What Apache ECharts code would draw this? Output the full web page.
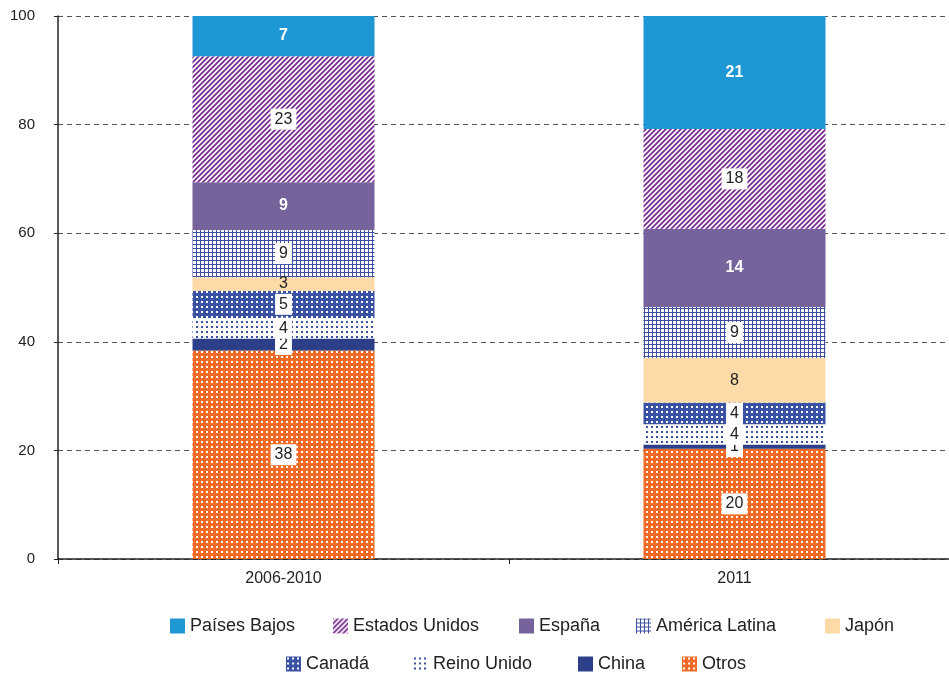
<!DOCTYPE html>
<html>
<head>
<meta charset="utf-8">
<script src="https://cdn.jsdelivr.net/npm/echarts@6/dist/echarts.min.js"></script>
<style>
  html, body { margin: 0; padding: 0; background: #fff; overflow: hidden; }
  #main { width: 961px; height: 673px; }
</style>
</head>
<body>
<div id="main"></div>
<script>
var categories = ['2006-2010', '2011'];
var yTicks = [0, 20, 40, 60, 80, 100];

// stack order, bottom to top
var otros = [38.4, 20.3];
var china = [2.2, 0.8];
var reinoUnido = [3.8, 3.7];
var canada = [5.0, 4.0];
var japon = [2.5, 8.2];
var americaLatina = [8.7, 9.4];
var espana = [8.8, 14.4];
var estadosUnidos = [23.2, 18.4];
var paisesBajos = [7.4, 20.8];

function pattern(size, draw) {
    var c = document.createElement('canvas');
    c.width = size;
    c.height = size;
    var ctx = c.getContext('2d');
    draw(ctx, size);
    return { image: c, repeat: 'repeat' };
}

function dots(bg, fg, size, dot) {
    return pattern(size, function(ctx, s) {
        ctx.fillStyle = bg;
        ctx.fillRect(0, 0, s, s);
        ctx.fillStyle = fg;
        ctx.fillRect(1, 1, dot, dot);
    });
}

var fillOtros = dots('#f26b26', '#ffffff', 5, 2);
var fillCanada = dots('#3a52a3', '#ffffff', 5, 2);
var fillReino = dots('#ffffff', '#3a52a3', 5, 2);
var fillAmerica = pattern(4, function(ctx, s) {
    ctx.fillStyle = '#ffffff';
    ctx.fillRect(0, 0, s, s);
    ctx.fillStyle = '#3c4fa3';
    ctx.fillRect(0, 0, s, 1);
    ctx.fillRect(0, 0, 1, s);
});
var fillEEUU = pattern(5, function(ctx, s) {
    ctx.fillStyle = '#ffffff';
    ctx.fillRect(0, 0, s, s);
    ctx.strokeStyle = '#7a2b92';
    ctx.lineWidth = 1.8;
    ctx.beginPath();
    ctx.moveTo(-1, s + 1); ctx.lineTo(s + 1, -1);
    ctx.moveTo(-2, 2); ctx.lineTo(2, -2);
    ctx.moveTo(s - 2, s + 2); ctx.lineTo(s + 2, s - 2);
    ctx.stroke();
});

var boxLabel = {
    show: true,
    color: '#222',
    fontSize: 16,
    fontFamily: 'Liberation Sans, Arial, sans-serif',
    backgroundColor: '#fff',
    padding: [3, 4, 2, 4],
    formatter: function(p) { return Math.round(p.value); }
};
var plainLabel = {
    show: true,
    color: '#222',
    fontSize: 16,
    fontFamily: 'Liberation Sans, Arial, sans-serif',
    formatter: function(p) { return Math.round(p.value); }
};
var whiteLabel = {
    show: true,
    color: '#fff',
    fontSize: 16,
    fontWeight: 'bold',
    fontFamily: 'Liberation Sans, Arial, sans-serif',
    formatter: function(p) { return Math.round(p.value); }
};

function bar(name, data, color, label) {
    return {
        name: name,
        type: 'bar',
        stack: 'total',
        barWidth: 182,
        data: data,
        itemStyle: { color: color },
        label: label,
        emphasis: { disabled: true }
    };
}

var series = [
    bar('Otros', otros, fillOtros, boxLabel),
    bar('China', china, '#2c3f88', boxLabel),
    bar('Reino Unido', reinoUnido, fillReino, boxLabel),
    bar('Canadá', canada, fillCanada, boxLabel),
    bar('Japón', japon, '#fddaa8', plainLabel),
    bar('América Latina', americaLatina, fillAmerica, boxLabel),
    bar('España', espana, '#77639c', whiteLabel),
    bar('Estados Unidos', estadosUnidos, fillEEUU, boxLabel),
    bar('Países Bajos', paisesBajos, '#1e98d5', whiteLabel)
];

// legend layout: [name, left, top]
var legendPos = [
    ['Países Bajos', 170, 617],
    ['Estados Unidos', 333, 617],
    ['España', 519, 617],
    ['América Latina', 636, 617],
    ['Japón', 825, 617],
    ['Canadá', 286, 655],
    ['Reino Unido', 413, 655],
    ['China', 578, 655],
    ['Otros', 682, 655]
];
var legends = legendPos.map(function(l) {
    return {
        data: [l[0]],
        left: l[1],
        top: l[2],
        padding: 0,
        itemWidth: 15,
        itemHeight: 15,
        itemGap: 0,
        icon: 'rect',
        selectedMode: false,
        textStyle: {
            color: '#222',
            fontSize: 18,
            padding: [0, 0, 0, 0],
            fontFamily: 'Liberation Sans, Arial, sans-serif'
        }
    };
});

var myChart = echarts.init(document.getElementById('main'));
var option = {
    animation: false,
    backgroundColor: '#fff',
    grid: { left: 58, top: 16, right: 1, height: 543, containLabel: false },
    legend: legends,
    xAxis: {
        type: 'category',
        data: categories,
        axisLine: { lineStyle: { color: '#222', width: 1.5 } },
        axisTick: { show: true, length: 5, lineStyle: { color: '#222' } },
        axisLabel: {
            color: '#222',
            fontSize: 16,
            margin: 12,
            fontFamily: 'Liberation Sans, Arial, sans-serif'
        }
    },
    yAxis: {
        type: 'value',
        min: yTicks[0],
        max: yTicks[yTicks.length - 1],
        interval: 20,
        axisLine: { show: true, lineStyle: { color: '#222', width: 1.5 } },
        axisTick: { show: true, length: 4, lineStyle: { color: '#222' } },
        axisLabel: {
            color: '#222',
            fontSize: 15,
            margin: 23,
            fontFamily: 'Liberation Sans, Arial, sans-serif'
        },
        splitLine: { lineStyle: { color: '#555', type: [5, 4], width: 1 } }
    },
    series: series
};
myChart.setOption(option);
</script>
</body>
</html>
